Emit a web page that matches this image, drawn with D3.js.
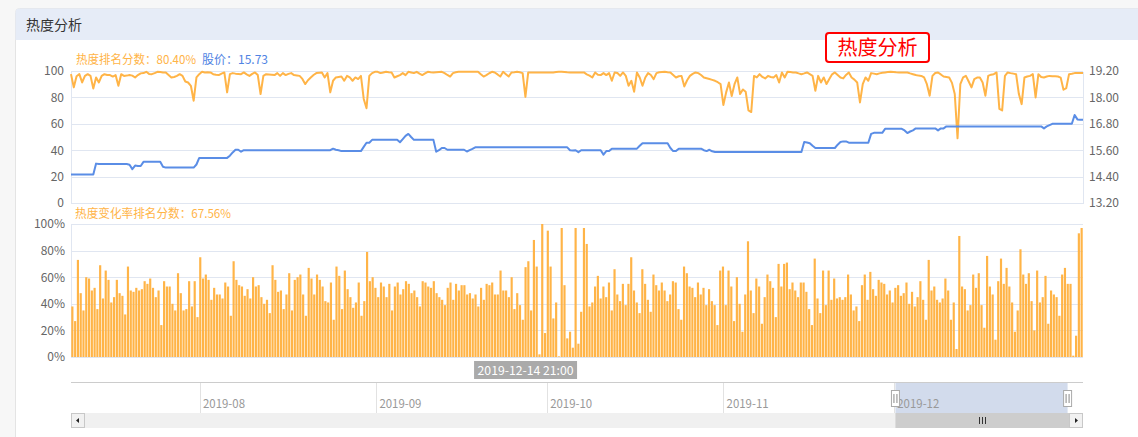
<!DOCTYPE html>
<html><head><meta charset="utf-8">
<script src="https://cdn.jsdelivr.net/npm/d3@7"></script>
<style>
html,body{margin:0;padding:0;background:#f7f7f7;}
svg{display:block;font-family:"Noto Sans CJK SC","Noto Sans",sans-serif;}
</style></head><body>
<svg id="c" width="1138" height="437"></svg>
<script>
// ---- data ----
const heatRank = [
97.6,87.6,96,97.6,91.3,96.3,97.6,96.3,86.8,95.1,
91.3,96.3,97.6,97,96.9,95.8,96.9,88.8,97.6,96.3,
96.5,96.9,96.5,95.1,96.9,98.2,98.4,99.4,97.8,97.6,
98.4,99.4,99.3,98.9,98.9,97,95.1,95.5,96.3,97.6,
96.3,92,91.3,88.8,77.5,95.1,97.6,99.4,98.9,99,
98.9,97.6,97.2,96.9,98,98.9,83.8,97.6,98.4,98,
97.8,97.6,98.9,97.5,96.3,97.8,98.9,96.9,82.5,96.3,
97.6,97.4,97.2,96.9,98.4,96.3,98.4,96.9,97.8,98.4,
96.9,96.6,96.3,94,90.1,93,95.1,97,98.4,98.7,
98.9,95.1,98.4,83.8,92.6,95.1,95.5,95.8,92.6,96.3,
95.1,92.6,95.1,93.9,96.3,78.8,71.8,96.3,98.4,99.4,
99.4,98.4,98.9,99.4,99.1,98.9,95.1,96,96.9,98.4,
96.9,99.4,98.9,98.4,99.4,98,96.9,98.2,99.4,99.1,
98.9,99.1,99.3,99.4,98.4,97,95.8,98.4,99,99.4,
99.4,99.4,99.4,99.4,99.4,99.4,99.4,97.5,95.8,96.9,
98.3,99.4,98.9,97.4,95.8,99.4,97.6,95.8,98.9,99,
99.4,99,98.4,80.4,98.9,98.9,98.9,98.9,98.9,98.9,
98.9,98.9,98.9,98.9,99.2,99.4,99.4,99.2,99,98.9,
98.9,98.9,98.9,98.9,98.9,97.5,96.5,95.1,98.9,97.2,
96.9,98.4,96.9,98.4,92.6,98.9,98.5,96.3,98.9,96.3,
88.8,92.6,84.3,98.9,95.1,88.8,95.1,98.4,97,93.8,
98.4,99,99.2,99.4,99.1,98.9,97,95.1,96,96.3,
88.3,93,96.3,97.8,98.9,98.4,97,95.1,94.5,93.9,
93.3,92.6,91.5,90.1,74.3,83.8,91.3,81,90,95.1,
82.5,86,84.3,70.1,68.9,96.3,95.1,97.6,95.5,94.4,
96.3,95.5,95.1,96.9,91.3,98.9,95.1,99.4,99.2,98.9,
98.9,98.2,97.6,98.2,98.9,97.6,96.3,85,96.3,91.3,
95.1,90.1,94,97.5,98.9,97,95.1,94.4,97,98.9,
95.1,93.5,91.3,76.2,90,95.1,92.6,98.4,98,97.6,
98.2,98.6,98.9,99.2,99.4,99.2,99,98.9,98.9,98.9,
98.9,98.2,97.6,97,96.5,96.3,95.1,90,81.3,96.3,
98.5,98.9,97.4,95.8,95.5,95.1,91,82.5,49,90,
95.1,96.3,92,87.6,93.8,95,95.1,91.3,81.3,96.3,
97.2,97.6,98.9,71.3,70.1,96.3,98.9,98.4,98,97.6,
82.5,74.9,95.1,95.8,96.3,97.6,80,97.6,95.5,95.1,
95.8,96.3,96.1,96,95.8,95,85.8,87.1,97.6,97.9,
98.4,98.4,98.4,98.4];

const stockPrice = [
14.49,14.49,14.49,14.49,14.49,14.49,14.49,14.49,14.49,14.99,
14.97,14.97,14.97,14.97,14.97,14.97,14.97,14.97,14.97,14.97,
14.97,14.94,14.74,14.9,14.88,14.88,15.07,15.07,15.07,15.07,
15.07,15.07,15.07,14.85,14.81,14.81,14.81,14.81,14.81,14.81,
14.81,14.81,14.81,14.81,14.81,14.95,15.25,15.25,15.25,15.25,
15.25,15.25,15.25,15.25,15.25,15.25,15.25,15.35,15.5,15.62,
15.62,15.53,15.6,15.6,15.6,15.6,15.6,15.6,15.6,15.6,
15.6,15.6,15.6,15.6,15.6,15.6,15.6,15.6,15.6,15.6,
15.6,15.6,15.6,15.6,15.6,15.6,15.6,15.6,15.6,15.6,
15.6,15.6,15.6,15.6,15.67,15.62,15.6,15.56,15.56,15.56,
15.56,15.56,15.56,15.56,15.56,15.75,15.94,15.94,16.07,16.07,
16.07,16.07,16.07,16.07,16.07,16.07,16.07,16.07,15.96,16.1,
16.25,16.34,16.2,16.07,16.07,16.07,16.07,16.07,16.07,16.07,
16.07,15.53,15.6,15.7,15.7,15.62,15.62,15.62,15.62,15.62,
15.62,15.62,15.54,15.6,15.66,15.73,15.73,15.73,15.73,15.73,
15.73,15.73,15.73,15.73,15.73,15.73,15.73,15.73,15.73,15.73,
15.73,15.73,15.73,15.73,15.73,15.73,15.73,15.73,15.73,15.73,
15.73,15.73,15.73,15.73,15.73,15.73,15.73,15.73,15.73,15.6,
15.59,15.6,15.51,15.6,15.6,15.6,15.6,15.6,15.6,15.6,
15.6,15.4,15.56,15.56,15.67,15.67,15.67,15.67,15.67,15.67,
15.67,15.67,15.67,15.67,15.8,15.92,15.92,15.92,15.92,15.92,
15.92,15.92,15.92,15.92,15.92,15.7,15.56,15.56,15.67,15.67,
15.67,15.67,15.67,15.67,15.67,15.67,15.67,15.6,15.56,15.62,
15.55,15.52,15.52,15.52,15.52,15.52,15.52,15.52,15.52,15.52,
15.52,15.52,15.52,15.52,15.52,15.52,15.52,15.52,15.52,15.52,
15.52,15.52,15.52,15.52,15.52,15.52,15.52,15.52,15.52,15.52,
15.52,15.52,15.52,15.97,15.95,15.92,15.8,15.7,15.7,15.7,
15.7,15.7,15.7,15.7,15.7,15.85,15.97,16,16,15.94,
15.94,15.94,15.94,15.94,15.94,15.94,15.94,16.34,16.39,16.39,
16.39,16.39,16.57,16.57,16.57,16.57,16.57,16.57,16.57,16.5,
16.38,16.45,16.5,16.59,16.59,16.59,16.59,16.59,16.59,16.59,
16.59,16.5,16.59,16.59,16.68,16.68,16.68,16.68,16.68,16.68,
16.68,16.68,16.68,16.68,16.68,16.68,16.68,16.68,16.68,16.68,
16.68,16.68,16.68,16.68,16.68,16.68,16.68,16.68,16.68,16.68,
16.68,16.68,16.68,16.68,16.68,16.68,16.68,16.68,16.68,16.59,
16.68,16.74,16.8,16.8,16.8,16.8,16.8,16.8,16.8,16.8,
17.2,17.0,16.98,16.98];

const heatChangeRank = [
38,27,73,48,35,60,59,50,52,36,
69,44,65,58,41,45,58,48,46,32,
68,50,49,52,50,51,57,55,59,52,
45,50,24,57,53,53,40,35,63,48,
35,36,57,38,57,30,75,59,62,58,
43,52,47,47,44,56,53,31,72,58,
54,53,46,51,44,60,53,54,45,40,
43,33,69,58,49,50,36,47,63,35,
58,60,62,47,31,67,59,47,62,58,
53,
42,41,56,28,68,61,36,65,51,45,
37,41,56,31,42,79,57,60,52,45,
56,53,45,55,35,53,56,47,51,57,
55,48,50,45,38,57,56,53,52,57,
48,45,43,39,52,56,43,55,50,54,
54,47,48,44,47,38,52,43,55,54,
56,47,47,65,50,50,
45,60,36,48,39,28,67.56,72,35,88,68,2,100,18,95,68,29,41,0.5,97,54,14,19,7,
97,10,34,97,85,38,41,53,61,44,
53,45,56,35,66,47,42,55,39,55,
75,50,41,33,66,55,43,34,62,54,
50,56,50,42,47,57,56,36,28,68,
63,53,52,45,56,47,52,39,51,42,
39,24,65,68,39,65,53,27,60,40,
19,47,87,50,33,59,53,25,45,62,
57,52,30,70,53,70,71,51,56,50,
45,56,56,49,36,24,74,44,33,65,
39,
65,43,59,44,45,43,45,62,47,35,
38,27,54,62,43,64,51,46,58,56,
55,47,50,41,52,54,46,48,56,40,
49,38,45,57,43,28,73,50,53,43,
41,44,59,50,28,41,6,91,53,51,
35,39,62,52,63,39,22,76,53,47,
13,57,74,55,67,53,41,19,35,81,
62,55,63,42,20,65,41,45,61,25,
50,47,45,31,62,67,55,55,1,16,
93,97];

const startTime = "2019-12-01 07:00";
const stepHours = 2;
const pointerTime = "2019-12-14 21:00";
const leftTicks = [0,20,40,60,80,100];
const rightTicks = [13.2,14.4,15.6,16.8,18.0,19.2];
const pctTicks = [0,20,40,60,80,100];
const sliderRange = ["2019-07-09 10:00","2020-01-03 06:00"];
const sliderTicks = ["2019-08","2019-09","2019-10","2019-11","2019-12"];
const panelTitle = "热度分析";
const seriesNames = ["热度排名分数","股价","热度变化率排名分数"];

// ---- build ----
const parseT = d3.timeParse("%Y-%m-%d %H:%M");
const fmtT = d3.timeFormat("%Y-%m-%d %H:%M");
const t0 = parseT(startTime);
const categories = heatChangeRank.map((_, i) => fmtT(d3.timeHour.offset(t0, i * stepHours)));
const pIdx = categories.indexOf(pointerTime);

const ORANGE = "#ffb447", BLUE = "#5a8de6", GRID = "#e0e6f1";
const X0 = 71, X1 = 1083;
const svg = d3.select("#c");

// fit a text element to the width the reference's 12px song font gives (CJK 12px, Latin 6px)
function songWidth(s, size) {
  let w = 0;
  for (const ch of s) w += (ch.charCodeAt(0) > 255 ? 1 : 0.5) * size;
  return w;
}
function fitText(sel, size) {
  sel.each(function() {
    const s = this.textContent;
    d3.select(this).attr("textLength", songWidth(s, size)).attr("lengthAdjust","spacingAndGlyphs");
  });
  return sel;
}

// panel
svg.append("rect").attr("x",15.5).attr("y",8.5).attr("width",1140).attr("height",440)
  .attr("rx",4).attr("fill","#fff").attr("stroke","#e4e4e4");
svg.append("path").attr("d","M15.5,40 V12.5 a4,4 0 0 1 4,-4 H1140 V40 Z").attr("fill","#e6ecf7");
svg.append("text").attr("x",26).attr("y",30).attr("font-size",14).attr("fill","#333").text(panelTitle);

// red title box
svg.append("rect").attr("x",826).attr("y",33).attr("width",103).attr("height",29).attr("rx",3)
  .attr("fill","#fff").attr("stroke","#f00").attr("stroke-width",2);
svg.append("text").attr("x",877.5).attr("y",55).attr("text-anchor","middle")
  .attr("font-size",20).attr("fill","#f00").text(panelTitle);

// ---- top chart ----
const TY0 = 203, TY1 = 71;
const xTop = d3.scalePoint().domain(categories).range([X0, X1]);
const yL = d3.scaleLinear().domain([0,100]).range([TY0, TY1]);
const yR = d3.scaleLinear().domain([13.2,19.2]).range([TY0, TY1]);

const gridTop = svg.append("g").attr("transform",`translate(${X0},0)`)
  .call(d3.axisLeft(yL).tickValues(leftTicks).tickSize(-(X1-X0)).tickFormat(""));
gridTop.select(".domain").remove();
gridTop.selectAll("line").attr("stroke",GRID).attr("shape-rendering","crispEdges");

const axL = svg.append("g").attr("transform",`translate(${X0},0)`)
  .call(d3.axisLeft(yL).tickValues(leftTicks).tickSize(0).tickPadding(7));
axL.select(".domain").attr("stroke",GRID).attr("shape-rendering","crispEdges");
axL.selectAll("text").attr("font-size",12).attr("fill","#666").attr("font-family","'Noto Sans CJK SC',sans-serif");

const axR = svg.append("g").attr("transform",`translate(${X1},0)`)
  .call(d3.axisRight(yR).tickValues(rightTicks).tickSize(0).tickPadding(6).tickFormat(d3.format(".2f")));
axR.select(".domain").attr("stroke",GRID).attr("shape-rendering","crispEdges");
axR.selectAll("text").attr("font-size",12).attr("fill","#666").attr("font-family","'Noto Sans CJK SC',sans-serif");

svg.append("path").datum(heatRank)
  .attr("d", d3.line().x((d,i)=>xTop(categories[i])).y(d=>yL(d)))
  .attr("fill","none").attr("stroke",ORANGE).attr("stroke-width",2).attr("stroke-linejoin","round");
svg.append("path").datum(stockPrice)
  .attr("d", d3.line().x((d,i)=>xTop(categories[i])).y(d=>yR(d)))
  .attr("fill","none").attr("stroke",BLUE).attr("stroke-width",2).attr("stroke-linejoin","round");

fitText(svg.append("text").attr("x",76).attr("y",64).attr("font-size",12).attr("fill",ORANGE)
  .text(seriesNames[0] + "：" + heatRank[pIdx].toFixed(2) + "%"), 12);
fitText(svg.append("text").attr("x",202).attr("y",64).attr("font-size",12).attr("fill","#4f83e3")
  .text(seriesNames[1] + "：" + stockPrice[pIdx].toFixed(2)), 12);

// ---- bar chart ----
const BY0 = 357, BY1 = 224;
const xBar = d3.scaleBand().domain(categories).range([X0, X1]).paddingInner(0.22).paddingOuter(0.1);
const yB = d3.scaleLinear().domain([0,100]).range([BY0, BY1]);

const gridB = svg.append("g").attr("transform",`translate(${X0},0)`)
  .call(d3.axisLeft(yB).tickValues(pctTicks).tickSize(-(X1-X0)).tickFormat(""));
gridB.select(".domain").remove();
gridB.selectAll("line").attr("stroke",GRID).attr("shape-rendering","crispEdges");

const axB = svg.append("g").attr("transform",`translate(${X0},0)`)
  .call(d3.axisLeft(yB).tickValues(pctTicks).tickSize(0).tickPadding(6).tickFormat(d=>d+"%"));
axB.select(".domain").attr("stroke",GRID).attr("shape-rendering","crispEdges");
axB.selectAll("text").attr("font-size",12).attr("fill","#666").attr("font-family","'Noto Sans CJK SC',sans-serif");

svg.append("g").selectAll("rect").data(heatChangeRank).join("rect")
  .attr("x",(d,i)=>xBar(categories[i])).attr("width",xBar.bandwidth())
  .attr("y",d=>yB(d)).attr("height",d=>BY0-yB(d)).attr("fill",ORANGE);

fitText(svg.append("text").attr("x",75).attr("y",218).attr("font-size",12).attr("fill",ORANGE)
  .text(seriesNames[2] + "：" + heatChangeRank[pIdx].toFixed(2) + "%"), 12);

// pointer label
const pcx = xBar(categories[pIdx]) + xBar.bandwidth()/2;
svg.append("rect").attr("x",pcx-51.5).attr("y",361).attr("width",103).attr("height",18).attr("fill","#aaa");
fitText(svg.append("text").attr("x",pcx-48).attr("y",375).attr("font-size",12)
  .attr("fill","#fff").text(pointerTime), 12);

// ---- data zoom slider ----
const SY0 = 383, SY1 = 413;
const parseM = d3.timeParse("%Y-%m");
const sx = d3.scaleTime().domain(sliderRange.map(parseT)).range([X0, X1]);
const w0 = sx(parseT(categories[0])), w1 = sx(parseT(categories[categories.length-1]));

svg.append("rect").attr("x",w0).attr("y",SY0).attr("width",w1-w0).attr("height",SY1-SY0).attr("fill","#d2dbec");
const axS = svg.append("g").attr("transform",`translate(0,${SY0})`)
  .call(d3.axisBottom(sx).tickValues(sliderTicks.map(parseM)).tickSize(SY1-SY0).tickFormat(d3.timeFormat("%Y-%m")));
axS.select(".domain").remove();
axS.selectAll("line").attr("stroke","#e2e2e2").attr("shape-rendering","crispEdges");
axS.selectAll("text").attr("text-anchor","start").attr("x",3).attr("y",0).attr("dy",0)
  .attr("transform","translate(0,25)").attr("font-size",12).attr("fill","#999")
  .attr("font-family","'Noto Sans CJK SC',sans-serif");
fitText(axS.selectAll("text"), 12);
svg.append("line").attr("x1",X0).attr("x2",X1).attr("y1",SY0-0.5).attr("y2",SY0-0.5)
  .attr("stroke","#ccc");

// handles
[w0, w1].forEach(hx => {
  svg.append("rect").attr("x",hx-4).attr("y",390.5).attr("width",8).attr("height",16)
    .attr("fill","#fff").attr("stroke","#aaa");
  [-1.5, 1.5].forEach(o => svg.append("line").attr("x1",hx+o).attr("x2",hx+o).attr("y1",394).attr("y2",403)
    .attr("stroke","#888"));
});

// scrollbar
svg.append("rect").attr("x",X0).attr("y",SY1).attr("width",X1-X0).attr("height",15).attr("fill","#f0f0f0");
svg.append("rect").attr("x",w0).attr("y",SY1).attr("width",X1-14-w0).attr("height",15).attr("fill","#cdcdcd");
const gc = (w0 + X1 - 14)/2;
[-3,0,3].forEach(o => svg.append("line").attr("x1",Math.round(gc+o)+0.5).attr("x2",Math.round(gc+o)+0.5)
  .attr("y1",417).attr("y2",424).attr("stroke","#333"));
[[X0, "M79,418 L76,420.5 L79,423 Z"], [X1-14, "M1075,418 L1078,420.5 L1075,423 Z"]].forEach(([bx, p]) => {
  svg.append("rect").attr("x",bx+0.5).attr("y",SY1+0.5).attr("width",13).attr("height",14)
    .attr("fill","#f1f1f1").attr("stroke","#c8c8c8");
  svg.append("path").attr("d",p).attr("fill","#222");
});
</script>
</body></html>
